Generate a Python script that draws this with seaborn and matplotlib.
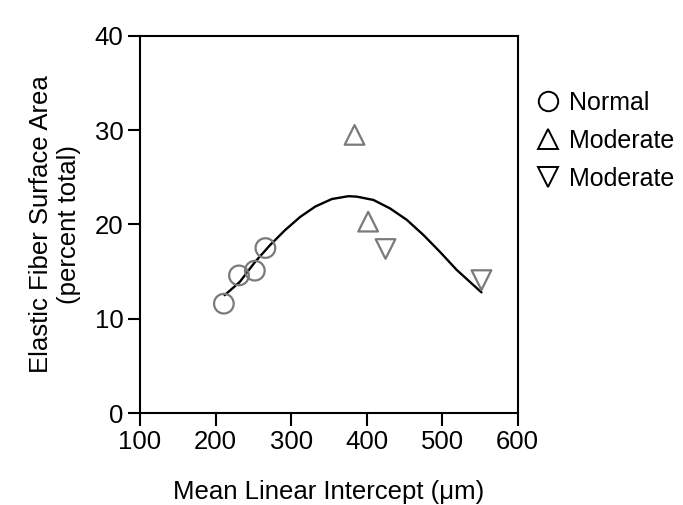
import numpy as np
import pandas as pd
import matplotlib
matplotlib.use('Agg')
import matplotlib.pyplot as plt
from matplotlib.lines import Line2D
import seaborn as sns

# data
normal_x = [211, 231, 252, 266]
normal_y = [11.6, 14.6, 15.1, 17.5]
mod_up_x = [384, 402]
mod_up_y = [29.5, 20.3]
mod_down_x = [425, 552]
mod_down_y = [17.4, 14.1]

curve_x = [212, 232, 252, 272, 292, 312, 332, 354, 376, 387, 409, 431, 453, 475, 497, 519, 541, 552]
curve_y = [12.5, 13.9, 16.0, 17.8, 19.4, 20.8, 21.9, 22.7, 23.0, 22.95, 22.6, 21.7, 20.5, 18.9, 17.1, 15.2, 13.6, 12.8]

groups = ['Normal', 'Moderate', 'Moderate']

sns.set_style('ticks')
plt.rcParams['font.family'] = ['Liberation Sans', 'DejaVu Sans']
plt.rcParams['text.color'] = 'black'
plt.rcParams['axes.labelcolor'] = 'black'
plt.rcParams['xtick.color'] = 'black'
plt.rcParams['ytick.color'] = 'black'

fs = 18.5

fig = plt.figure(figsize=(6.83, 5.05), dpi=100)
ax = fig.add_axes([0.205, 0.182, 0.553, 0.747])

df_curve = pd.DataFrame({'x': curve_x, 'y': curve_y})
sns.lineplot(x='x', y='y', data=df_curve, color='black', linewidth=1.7, ax=ax, sort=False)

grey = '#7a7a7a'
for xs, ys, m in [(normal_x, normal_y, 'o'), (mod_up_x, mod_up_y, '^'), (mod_down_x, mod_down_y, 'v')]:
    sns.scatterplot(x=xs, y=ys, marker=m, s=200, facecolors='none', edgecolors=grey,
                    linewidth=1.6, ax=ax, zorder=3)

ax.set_xlim(100, 600)
ax.set_ylim(0, 40)
ax.set_xticks([100, 200, 300, 400, 500, 600])
ax.set_yticks([0, 10, 20, 30, 40])
ax.tick_params(direction='out', length=9, width=1.5, labelsize=fs, pad=3)
for s in ax.spines.values():
    s.set_linewidth(1.5)
    s.set_color('black')

ax.set_xlabel('Mean Linear Intercept (μm)', fontsize=fs, labelpad=19)
ax.set_ylabel('Elastic Fiber Surface Area\n(percent total)', fontsize=fs, labelpad=10)

handles = [
    Line2D([], [], linestyle='none', marker='o', markersize=14, markerfacecolor='none', markeredgecolor='black', markeredgewidth=1.4),
    Line2D([], [], linestyle='none', marker='^', markersize=14, markerfacecolor='none', markeredgecolor='black', markeredgewidth=1.4),
    Line2D([], [], linestyle='none', marker='v', markersize=14, markerfacecolor='none', markeredgecolor='black', markeredgewidth=1.4),
]
ax.legend(handles, groups, loc='upper left', bbox_to_anchor=(1.003, 0.88), frameon=False,
          fontsize=18, handletextpad=0.12, labelspacing=0.55, borderaxespad=0, handlelength=1.5)

fig.savefig('out.png', dpi=100)
